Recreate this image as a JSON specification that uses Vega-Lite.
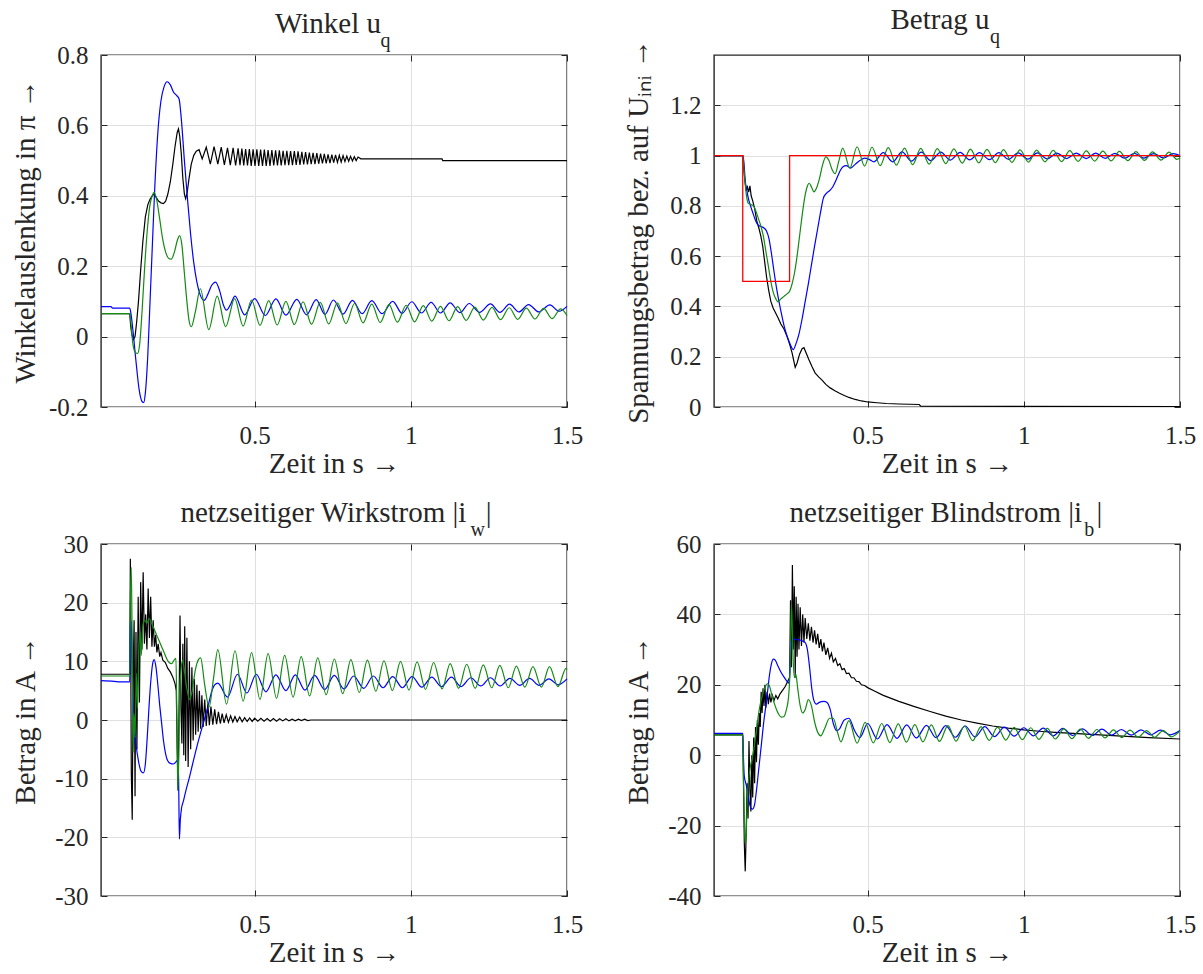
{
"$schema": "https://vega.github.io/schema/vega-lite/v6.json",
"background": "white",
"padding": {"left": 10, "top": 4, "right": 2, "bottom": 0},
"columns": 2,
"spacing": {"row": 137, "column": 147},
"bounds": "flush",
"config": {
 "font": "Liberation Serif",
 "view": {"stroke": "#262626", "strokeWidth": 1.4},
 "style": {"guide-label": {"font": "Liberation Serif"}, "guide-title": {"font": "Liberation Serif"}, "group-title": {"font": "Liberation Serif"}, "group-subtitle": {"font": "Liberation Serif"}},
 "axis": {"labelFont": "Liberation Serif", "labelFontSize": 25, "labelColor": "#262626", "titleFont": "Liberation Serif", "titleFontSize": 29, "titleFontWeight": "normal", "titleColor": "#262626", "grid": true, "gridColor": "#e0e0e0", "gridWidth": 1, "domain": false, "tickColor": "#262626", "tickWidth": 1, "tickSize": -6, "labelOverlap": false, "labelBound": false},
 "axisX": {"minExtent": 42, "maxExtent": 42, "titlePadding": 0, "labelPadding": 22.5, "labelFlush": false},
 "axisY": {"minExtent": 56, "maxExtent": 56, "titlePadding": 5, "labelPadding": 19},
 "title": {"font": "Liberation Serif", "fontSize": 29, "fontWeight": "normal", "color": "#262626", "subtitleFont": "Liberation Serif", "subtitleFontSize": 20, "subtitleColor": "#262626", "frame": "group", "anchor": "middle", "offset": -8, "subtitlePadding": -8}
},
"datasets": {
"p1": [
{"s":"k","t":0.008,"v":0.065},{"s":"k","t":0.1,"v":0.065},{"s":"k","t":0.103,"v":0.03},{"s":"k","t":0.107,"v":0.005},{"s":"k","t":0.112,"v":-0.008},{"s":"k","t":0.117,"v":0.0},{"s":"k","t":0.122,"v":0.04},{"s":"k","t":0.128,"v":0.1},{"s":"k","t":0.135,"v":0.19},{"s":"k","t":0.142,"v":0.27},{"s":"k","t":0.15,"v":0.34},{"s":"k","t":0.158,"v":0.375},{"s":"k","t":0.165,"v":0.39},{"s":"k","t":0.172,"v":0.4},{"s":"k","t":0.178,"v":0.405},{"s":"k","t":0.185,"v":0.395},{"s":"k","t":0.192,"v":0.385},{"s":"k","t":0.2,"v":0.38},{"s":"k","t":0.208,"v":0.378},{"s":"k","t":0.215,"v":0.385},{"s":"k","t":0.222,"v":0.405},{"s":"k","t":0.23,"v":0.44},{"s":"k","t":0.238,"v":0.49},{"s":"k","t":0.245,"v":0.54},{"s":"k","t":0.252,"v":0.58},{"s":"k","t":0.256,"v":0.59},{"s":"k","t":0.26,"v":0.57},{"s":"k","t":0.265,"v":0.52},{"s":"k","t":0.27,"v":0.45},{"s":"k","t":0.275,"v":0.405},{"s":"k","t":0.279,"v":0.392},{"s":"k","t":0.284,"v":0.41},{"s":"k","t":0.29,"v":0.45},{"s":"k","t":0.297,"v":0.49},{"s":"k","t":0.305,"v":0.515},{"s":"k","t":0.313,"v":0.527},{"s":"k","t":0.322,"v":0.531},{"s":"k","t":0.332,"v":0.505},{"s":"k","t":0.345,"v":0.538},{"s":"k","t":0.358,"v":0.49},{"s":"k","t":0.37,"v":0.54},{"s":"k","t":0.382,"v":0.49},{"s":"k","t":0.393,"v":0.538},{"s":"k","t":0.403,"v":0.488},{"s":"k","t":0.413,"v":0.536},{"s":"k","t":0.422,"v":0.487},{"s":"k","t":0.431,"v":0.536},{"s":"k","t":0.439,"v":0.486},{"s":"k","t":0.447,"v":0.535},
{"s":"k","t":0.453,"v":0.487},{"s":"k","t":0.459,"v":0.534},{"s":"k","t":0.465,"v":0.486},{"s":"k","t":0.471,"v":0.533},{"s":"k","t":0.477,"v":0.486},{"s":"k","t":0.483,"v":0.533},{"s":"k","t":0.489,"v":0.485},{"s":"k","t":0.495,"v":0.532},{"s":"k","t":0.501,"v":0.485},{"s":"k","t":0.507,"v":0.532},{"s":"k","t":0.513,"v":0.485},{"s":"k","t":0.519,"v":0.531},{"s":"k","t":0.525,"v":0.485},{"s":"k","t":0.531,"v":0.531},{"s":"k","t":0.537,"v":0.485},{"s":"k","t":0.543,"v":0.53},{"s":"k","t":0.549,"v":0.485},{"s":"k","t":0.555,"v":0.53},{"s":"k","t":0.561,"v":0.486},{"s":"k","t":0.567,"v":0.529},{"s":"k","t":0.573,"v":0.486},{"s":"k","t":0.579,"v":0.529},{"s":"k","t":0.585,"v":0.486},{"s":"k","t":0.591,"v":0.528},{"s":"k","t":0.597,"v":0.487},{"s":"k","t":0.603,"v":0.528},{"s":"k","t":0.609,"v":0.487},{"s":"k","t":0.615,"v":0.527},{"s":"k","t":0.621,"v":0.487},{"s":"k","t":0.627,"v":0.527},{"s":"k","t":0.633,"v":0.488},{"s":"k","t":0.639,"v":0.526},{"s":"k","t":0.645,"v":0.488},{"s":"k","t":0.651,"v":0.525},{"s":"k","t":0.657,"v":0.489},{"s":"k","t":0.663,"v":0.524},{"s":"k","t":0.669,"v":0.489},{"s":"k","t":0.675,"v":0.523},{"s":"k","t":0.681,"v":0.49},{"s":"k","t":0.687,"v":0.522},{"s":"k","t":0.693,"v":0.49},{"s":"k","t":0.699,"v":0.521},{"s":"k","t":0.705,"v":0.491},{"s":"k","t":0.711,"v":0.52},{"s":"k","t":0.717,"v":0.492},{"s":"k","t":0.723,"v":0.519},{"s":"k","t":0.729,"v":0.492},{"s":"k","t":0.735,"v":0.518},{"s":"k","t":0.741,"v":0.493},{"s":"k","t":0.747,"v":0.517},{"s":"k","t":0.753,"v":0.494},{"s":"k","t":0.759,"v":0.516},{"s":"k","t":0.765,"v":0.495},{"s":"k","t":0.771,"v":0.515},{"s":"k","t":0.777,"v":0.496},{"s":"k","t":0.783,"v":0.514},{"s":"k","t":0.789,"v":0.497},{"s":"k","t":0.795,"v":0.513},{"s":"k","t":0.801,"v":0.498},{"s":"k","t":0.807,"v":0.512},{"s":"k","t":0.813,"v":0.499},{"s":"k","t":0.819,"v":0.511},{"s":"k","t":0.825,"v":0.5},{"s":"k","t":0.831,"v":0.51},{"s":"k","t":0.84,"v":0.505},{"s":"k","t":1.1,"v":0.505},{"s":"k","t":1.102,"v":0.5},{"s":"k","t":1.5,"v":0.5},
{"s":"b","t":0.008,"v":0.085},{"s":"b","t":0.04,"v":0.085},{"s":"b","t":0.045,"v":0.081},{"s":"b","t":0.1,"v":0.081},{"s":"b","t":0.103,"v":0.07},{"s":"b","t":0.11,"v":0.02},{"s":"b","t":0.12,"v":-0.07},{"s":"b","t":0.13,"v":-0.15},{"s":"b","t":0.14,"v":-0.185},{"s":"b","t":0.145,"v":-0.187},{"s":"b","t":0.15,"v":-0.16},{"s":"b","t":0.158,"v":-0.05},{"s":"b","t":0.165,"v":0.1},{"s":"b","t":0.172,"v":0.25},{"s":"b","t":0.18,"v":0.42},{"s":"b","t":0.19,"v":0.58},{"s":"b","t":0.2,"v":0.67},{"s":"b","t":0.21,"v":0.71},{"s":"b","t":0.22,"v":0.724},{"s":"b","t":0.23,"v":0.715},{"s":"b","t":0.24,"v":0.695},{"s":"b","t":0.25,"v":0.685},{"s":"b","t":0.258,"v":0.675},{"s":"b","t":0.265,"v":0.62},{"s":"b","t":0.275,"v":0.5},{"s":"b","t":0.285,"v":0.39},{"s":"b","t":0.295,"v":0.29},{"s":"b","t":0.305,"v":0.21},{"s":"b","t":0.315,"v":0.155},{"s":"b","t":0.325,"v":0.12},{"s":"b","t":0.338,"v":0.103},{"s":"b","t":0.35,"v":0.12},{"s":"b","t":0.362,"v":0.145},{"s":"b","t":0.375,"v":0.155},{"s":"b","t":0.388,"v":0.13},{"s":"b","t":0.4,"v":0.09},{"s":"b","t":0.41,"v":0.075},{"s":"b","t":0.422,"v":0.09},{"s":"b","t":0.437,"v":0.115},{"s":"b","t":0.468,"v":0.062},{"s":"b","t":0.5,"v":0.108},{"s":"b","t":0.534,"v":0.06},{"s":"b","t":0.568,"v":0.107},{"s":"b","t":0.6,"v":0.061},{"s":"b","t":0.635,"v":0.106},{"s":"b","t":0.666,"v":0.062},{"s":"b","t":0.697,"v":0.105},{"s":"b","t":0.725,"v":0.063},{"s":"b","t":0.752,"v":0.104},{"s":"b","t":0.783,"v":0.064},{"s":"b","t":0.813,"v":0.103},{"s":"b","t":0.844,"v":0.065},{"s":"b","t":0.875,"v":0.102},{"s":"b","t":0.908,"v":0.065},{"s":"b","t":0.942,"v":0.1},{"s":"b","t":0.972,"v":0.066},{"s":"b","t":1.003,"v":0.099},{"s":"b","t":1.034,"v":0.067},{"s":"b","t":1.065,"v":0.097},{"s":"b","t":1.095,"v":0.067},{"s":"b","t":1.126,"v":0.096},{"s":"b","t":1.157,"v":0.068},{"s":"b","t":1.187,"v":0.094},{"s":"b","t":1.22,"v":0.069},{"s":"b","t":1.255,"v":0.093},{"s":"b","t":1.285,"v":0.069},{"s":"b","t":1.316,"v":0.092},{"s":"b","t":1.346,"v":0.07},{"s":"b","t":1.377,"v":0.091},{"s":"b","t":1.41,"v":0.07},{"s":"b","t":1.445,"v":0.09},{"s":"b","t":1.475,"v":0.072},{"s":"b","t":1.5,"v":0.086},
{"s":"g","t":0.008,"v":0.065},{"s":"g","t":0.1,"v":0.065},{"s":"g","t":0.103,"v":0.045},{"s":"g","t":0.11,"v":-0.02},{"s":"g","t":0.118,"v":-0.045},{"s":"g","t":0.125,"v":-0.048},{"s":"g","t":0.132,"v":-0.02},{"s":"g","t":0.14,"v":0.08},{"s":"g","t":0.148,"v":0.2},{"s":"g","t":0.156,"v":0.3},{"s":"g","t":0.164,"v":0.37},{"s":"g","t":0.172,"v":0.4},{"s":"g","t":0.178,"v":0.41},{"s":"g","t":0.186,"v":0.39},{"s":"g","t":0.195,"v":0.34},{"s":"g","t":0.205,"v":0.28},{"s":"g","t":0.215,"v":0.24},{"s":"g","t":0.225,"v":0.222},{"s":"g","t":0.233,"v":0.22},{"s":"g","t":0.243,"v":0.24},{"s":"g","t":0.253,"v":0.275},{"s":"g","t":0.26,"v":0.287},{"s":"g","t":0.267,"v":0.26},{"s":"g","t":0.275,"v":0.18},{"s":"g","t":0.283,"v":0.1},{"s":"g","t":0.29,"v":0.045},{"s":"g","t":0.297,"v":0.028},{"s":"g","t":0.31,"v":0.07},{"s":"g","t":0.326,"v":0.136},{"s":"g","t":0.353,"v":0.02},{"s":"g","t":0.38,"v":0.115},{"s":"g","t":0.407,"v":0.028},{"s":"g","t":0.436,"v":0.108},{"s":"g","t":0.463,"v":0.03},{"s":"g","t":0.49,"v":0.104},{"s":"g","t":0.517,"v":0.032},{"s":"g","t":0.545,"v":0.102},{"s":"g","t":0.572,"v":0.033},{"s":"g","t":0.6,"v":0.1},{"s":"g","t":0.627,"v":0.034},{"s":"g","t":0.655,"v":0.099},{"s":"g","t":0.682,"v":0.035},{"s":"g","t":0.71,"v":0.097},{"s":"g","t":0.737,"v":0.036},{"s":"g","t":0.765,"v":0.096},{"s":"g","t":0.792,"v":0.037},{"s":"g","t":0.82,"v":0.094},{"s":"g","t":0.847,"v":0.039},{"s":"g","t":0.875,"v":0.092},{"s":"g","t":0.902,"v":0.04},{"s":"g","t":0.93,"v":0.091},{"s":"g","t":0.957,"v":0.041},{"s":"g","t":0.985,"v":0.089},{"s":"g","t":1.012,"v":0.042},{"s":"g","t":1.04,"v":0.088},{"s":"g","t":1.067,"v":0.044},{"s":"g","t":1.095,"v":0.086},{"s":"g","t":1.122,"v":0.045},{"s":"g","t":1.15,"v":0.085},{"s":"g","t":1.177,"v":0.046},{"s":"g","t":1.205,"v":0.084},{"s":"g","t":1.232,"v":0.047},{"s":"g","t":1.26,"v":0.083},{"s":"g","t":1.287,"v":0.048},{"s":"g","t":1.315,"v":0.082},{"s":"g","t":1.342,"v":0.049},{"s":"g","t":1.37,"v":0.081},{"s":"g","t":1.397,"v":0.05},{"s":"g","t":1.425,"v":0.08},{"s":"g","t":1.452,"v":0.051},{"s":"g","t":1.48,"v":0.079},{"s":"g","t":1.5,"v":0.06}
],
"p2": [
{"s":"k","t":0.008,"v":1.0},{"s":"k","t":0.1,"v":1.0},{"s":"k","t":0.103,"v":0.95},{"s":"k","t":0.107,"v":0.9},{"s":"k","t":0.111,"v":0.86},{"s":"k","t":0.115,"v":0.875},{"s":"k","t":0.119,"v":0.855},{"s":"k","t":0.123,"v":0.88},{"s":"k","t":0.127,"v":0.84},{"s":"k","t":0.132,"v":0.82},{"s":"k","t":0.138,"v":0.79},{"s":"k","t":0.145,"v":0.74},{"s":"k","t":0.152,"v":0.71},{"s":"k","t":0.158,"v":0.68},{"s":"k","t":0.164,"v":0.64},{"s":"k","t":0.17,"v":0.58},{"s":"k","t":0.176,"v":0.52},{"s":"k","t":0.183,"v":0.465},{"s":"k","t":0.19,"v":0.42},{"s":"k","t":0.197,"v":0.395},{"s":"k","t":0.205,"v":0.375},{"s":"k","t":0.213,"v":0.355},{"s":"k","t":0.222,"v":0.33},{"s":"k","t":0.232,"v":0.31},{"s":"k","t":0.242,"v":0.28},{"s":"k","t":0.25,"v":0.25},{"s":"k","t":0.258,"v":0.215},{"s":"k","t":0.264,"v":0.18},{"s":"k","t":0.268,"v":0.158},{"s":"k","t":0.274,"v":0.175},{"s":"k","t":0.282,"v":0.21},{"s":"k","t":0.29,"v":0.232},{"s":"k","t":0.296,"v":0.236},{"s":"k","t":0.303,"v":0.215},{"s":"k","t":0.312,"v":0.188},{"s":"k","t":0.322,"v":0.16},{"s":"k","t":0.332,"v":0.135},{"s":"k","t":0.343,"v":0.12},{"s":"k","t":0.354,"v":0.107},{"s":"k","t":0.366,"v":0.09},{"s":"k","t":0.38,"v":0.076},{"s":"k","t":0.395,"v":0.065},{"s":"k","t":0.41,"v":0.055},{"s":"k","t":0.425,"v":0.046},{"s":"k","t":0.44,"v":0.038},{"s":"k","t":0.46,"v":0.03},{"s":"k","t":0.48,"v":0.024},{"s":"k","t":0.5,"v":0.02},{"s":"k","t":0.53,"v":0.017},{"s":"k","t":0.56,"v":0.014},{"s":"k","t":0.6,"v":0.012},{"s":"k","t":0.665,"v":0.01},{"s":"k","t":0.67,"v":0.003},{"s":"k","t":1.5,"v":0.002},
{"s":"b","t":0.008,"v":1.0},{"s":"b","t":0.1,"v":1.0},{"s":"b","t":0.104,"v":0.97},{"s":"b","t":0.108,"v":0.9},{"s":"b","t":0.112,"v":0.87},{"s":"b","t":0.118,"v":0.83},{"s":"b","t":0.125,"v":0.8},{"s":"b","t":0.133,"v":0.77},{"s":"b","t":0.14,"v":0.745},{"s":"b","t":0.148,"v":0.725},{"s":"b","t":0.158,"v":0.718},{"s":"b","t":0.168,"v":0.712},{"s":"b","t":0.176,"v":0.7},{"s":"b","t":0.184,"v":0.67},{"s":"b","t":0.192,"v":0.61},{"s":"b","t":0.2,"v":0.54},{"s":"b","t":0.208,"v":0.475},{"s":"b","t":0.216,"v":0.42},{"s":"b","t":0.224,"v":0.37},{"s":"b","t":0.232,"v":0.325},{"s":"b","t":0.24,"v":0.29},{"s":"b","t":0.248,"v":0.262},{"s":"b","t":0.256,"v":0.238},{"s":"b","t":0.262,"v":0.228},{"s":"b","t":0.27,"v":0.25},{"s":"b","t":0.28,"v":0.29},{"s":"b","t":0.29,"v":0.35},{"s":"b","t":0.3,"v":0.42},{"s":"b","t":0.31,"v":0.49},{"s":"b","t":0.32,"v":0.565},{"s":"b","t":0.33,"v":0.64},{"s":"b","t":0.34,"v":0.71},{"s":"b","t":0.35,"v":0.78},{"s":"b","t":0.358,"v":0.83},{"s":"b","t":0.368,"v":0.85},{"s":"b","t":0.378,"v":0.86},{"s":"b","t":0.388,"v":0.875},{"s":"b","t":0.398,"v":0.9},{"s":"b","t":0.41,"v":0.935},{"s":"b","t":0.42,"v":0.955},{"s":"b","t":0.432,"v":0.96},{"s":"b","t":0.445,"v":0.95},{"s":"b","t":0.46,"v":0.965},{"s":"b","t":0.475,"v":0.98},{"s":"b","t":0.49,"v":0.99},{"s":"b","t":0.505,"v":0.985},{"s":"b","t":0.52,"v":0.975},{"s":"b","t":0.55,"v":1.012},{"s":"b","t":0.58,"v":0.975},{"s":"b","t":0.61,"v":1.015},{"s":"b","t":0.64,"v":0.978},{"s":"b","t":0.672,"v":1.014},{"s":"b","t":0.702,"v":0.98},{"s":"b","t":0.734,"v":1.014},{"s":"b","t":0.765,"v":0.982},{"s":"b","t":0.796,"v":1.013},{"s":"b","t":0.827,"v":0.983},{"s":"b","t":0.858,"v":1.012},{"s":"b","t":0.89,"v":0.984},{"s":"b","t":0.92,"v":1.012},{"s":"b","t":0.951,"v":0.985},{"s":"b","t":0.982,"v":1.011},{"s":"b","t":1.013,"v":0.986},{"s":"b","t":1.044,"v":1.011},{"s":"b","t":1.075,"v":0.987},{"s":"b","t":1.106,"v":1.01},{"s":"b","t":1.137,"v":0.988},{"s":"b","t":1.168,"v":1.01},{"s":"b","t":1.2,"v":0.988},{"s":"b","t":1.23,"v":1.01},{"s":"b","t":1.261,"v":0.989},{"s":"b","t":1.292,"v":1.009},{"s":"b","t":1.323,"v":0.99},{"s":"b","t":1.354,"v":1.009},{"s":"b","t":1.385,"v":0.99},{"s":"b","t":1.416,"v":1.008},{"s":"b","t":1.447,"v":0.991},{"s":"b","t":1.478,"v":1.008},{"s":"b","t":1.5,"v":1.0},
{"s":"g","t":0.008,"v":1.0},{"s":"g","t":0.1,"v":1.0},{"s":"g","t":0.103,"v":0.96},{"s":"g","t":0.107,"v":0.9},{"s":"g","t":0.112,"v":0.84},{"s":"g","t":0.118,"v":0.81},{"s":"g","t":0.126,"v":0.805},{"s":"g","t":0.134,"v":0.8},{"s":"g","t":0.142,"v":0.78},{"s":"g","t":0.15,"v":0.75},{"s":"g","t":0.158,"v":0.72},{"s":"g","t":0.166,"v":0.68},{"s":"g","t":0.174,"v":0.62},{"s":"g","t":0.182,"v":0.56},{"s":"g","t":0.19,"v":0.5},{"s":"g","t":0.198,"v":0.455},{"s":"g","t":0.206,"v":0.43},{"s":"g","t":0.213,"v":0.418},{"s":"g","t":0.222,"v":0.43},{"s":"g","t":0.232,"v":0.44},{"s":"g","t":0.242,"v":0.45},{"s":"g","t":0.25,"v":0.46},{"s":"g","t":0.258,"v":0.49},{"s":"g","t":0.266,"v":0.535},{"s":"g","t":0.274,"v":0.6},{"s":"g","t":0.282,"v":0.68},{"s":"g","t":0.29,"v":0.76},{"s":"g","t":0.298,"v":0.83},{"s":"g","t":0.306,"v":0.875},{"s":"g","t":0.313,"v":0.89},{"s":"g","t":0.32,"v":0.875},{"s":"g","t":0.328,"v":0.856},{"s":"g","t":0.336,"v":0.87},{"s":"g","t":0.345,"v":0.905},{"s":"g","t":0.355,"v":0.96},{"s":"g","t":0.366,"v":0.995},{"s":"g","t":0.376,"v":0.98},{"s":"g","t":0.386,"v":0.945},{"s":"g","t":0.396,"v":0.928},{"s":"g","t":0.408,"v":0.98},{"s":"g","t":0.42,"v":1.03},{"s":"g","t":0.443,"v":0.95},{"s":"g","t":0.466,"v":1.035},{"s":"g","t":0.49,"v":0.958},{"s":"g","t":0.514,"v":1.033},{"s":"g","t":0.54,"v":0.96},{"s":"g","t":0.566,"v":1.032},{"s":"g","t":0.592,"v":0.962},{"s":"g","t":0.618,"v":1.03},{"s":"g","t":0.644,"v":0.964},{"s":"g","t":0.67,"v":1.029},{"s":"g","t":0.697,"v":0.966},{"s":"g","t":0.723,"v":1.028},{"s":"g","t":0.75,"v":0.968},{"s":"g","t":0.776,"v":1.027},{"s":"g","t":0.803,"v":0.97},{"s":"g","t":0.829,"v":1.026},{"s":"g","t":0.856,"v":0.971},{"s":"g","t":0.882,"v":1.025},{"s":"g","t":0.909,"v":0.972},{"s":"g","t":0.935,"v":1.024},{"s":"g","t":0.962,"v":0.973},{"s":"g","t":0.988,"v":1.023},{"s":"g","t":1.015,"v":0.974},{"s":"g","t":1.041,"v":1.022},{"s":"g","t":1.068,"v":0.975},{"s":"g","t":1.094,"v":1.021},{"s":"g","t":1.121,"v":0.976},{"s":"g","t":1.147,"v":1.02},{"s":"g","t":1.174,"v":0.977},{"s":"g","t":1.2,"v":1.019},{"s":"g","t":1.227,"v":0.978},{"s":"g","t":1.253,"v":1.018},{"s":"g","t":1.28,"v":0.979},{"s":"g","t":1.306,"v":1.017},{"s":"g","t":1.333,"v":0.98},{"s":"g","t":1.359,"v":1.016},{"s":"g","t":1.386,"v":0.981},{"s":"g","t":1.412,"v":1.015},{"s":"g","t":1.439,"v":0.982},{"s":"g","t":1.465,"v":1.014},{"s":"g","t":1.49,"v":0.985},{"s":"g","t":1.5,"v":0.99},
{"s":"r","t":0.008,"v":1.0},{"s":"r","t":0.1,"v":1.0},{"s":"r","t":0.1001,"v":0.5},{"s":"r","t":0.25,"v":0.5},{"s":"r","t":0.2501,"v":1.0},{"s":"r","t":1.5,"v":1.0}
],
"p3": [
{"s":"k","t":0.008,"v":7.8},{"s":"k","t":0.1,"v":7.8},{"s":"k","t":0.102,"v":27.5},{"s":"k","t":0.105,"v":-9},{"s":"k","t":0.108,"v":-17},{"s":"k","t":0.111,"v":8},{"s":"k","t":0.114,"v":17},{"s":"k","t":0.117,"v":-13},{"s":"k","t":0.12,"v":15},{"s":"k","t":0.123,"v":-5},{"s":"k","t":0.127,"v":21},{"s":"k","t":0.131,"v":3},{"s":"k","t":0.135,"v":23.5},{"s":"k","t":0.139,"v":12},{"s":"k","t":0.143,"v":25.2},{"s":"k","t":0.147,"v":13},{"s":"k","t":0.151,"v":18},{"s":"k","t":0.155,"v":12},{"s":"k","t":0.159,"v":22.4},{"s":"k","t":0.163,"v":14},{"s":"k","t":0.167,"v":21},{"s":"k","t":0.171,"v":12.5},{"s":"k","t":0.175,"v":17},{"s":"k","t":0.179,"v":12.5},{"s":"k","t":0.183,"v":14.5},{"s":"k","t":0.187,"v":11.5},{"s":"k","t":0.191,"v":13},{"s":"k","t":0.196,"v":10.8},{"s":"k","t":0.2,"v":11.5},{"s":"k","t":0.206,"v":10.2},{"s":"k","t":0.214,"v":9.8},{"s":"k","t":0.222,"v":8.8},{"s":"k","t":0.23,"v":8.2},{"s":"k","t":0.238,"v":7.3},{"s":"k","t":0.245,"v":6.2},{"s":"k","t":0.249,"v":5},{"s":"k","t":0.252,"v":-5},{"s":"k","t":0.255,"v":-12},{"s":"k","t":0.258,"v":3},{"s":"k","t":0.261,"v":17.8},{"s":"k","t":0.264,"v":2},{"s":"k","t":0.267,"v":-4},{"s":"k","t":0.27,"v":13},{"s":"k","t":0.273,"v":-6},{"s":"k","t":0.276,"v":16},{"s":"k","t":0.279,"v":-7},{"s":"k","t":0.283,"v":14},{"s":"k","t":0.287,"v":-8},{"s":"k","t":0.291,"v":10},{"s":"k","t":0.295,"v":-5},{"s":"k","t":0.299,"v":9},{"s":"k","t":0.303,"v":-3.5},{"s":"k","t":0.307,"v":7},{"s":"k","t":0.311,"v":-2.5},{"s":"k","t":0.315,"v":6},{"s":"k","t":0.319,"v":-2},{"s":"k","t":0.323,"v":5},{"s":"k","t":0.327,"v":-1.5},{"s":"k","t":0.331,"v":4.2},{"s":"k","t":0.335,"v":-1.2},{"s":"k","t":0.34,"v":3.5},{"s":"k","t":0.345,"v":-1},{"s":"k","t":0.35,"v":2.8},{"s":"k","t":0.355,"v":-0.9},{"s":"k","t":0.36,"v":2.3},{"s":"k","t":0.366,"v":-0.8},{"s":"k","t":0.372,"v":1.8},{"s":"k","t":0.378,"v":-0.7},{"s":"k","t":0.384,"v":1.4},{"s":"k","t":0.39,"v":-0.6},{"s":"k","t":0.396,"v":1.1},{"s":"k","t":0.402,"v":-0.5},{"s":"k","t":0.409,"v":0.9},{"s":"k","t":0.416,"v":-0.4},{"s":"k","t":0.423,"v":0.7},{"s":"k","t":0.43,"v":-0.35},{"s":"k","t":0.437,"v":0.6},{"s":"k","t":0.444,"v":-0.3},{"s":"k","t":0.452,"v":0.5},{"s":"k","t":0.46,"v":-0.3},{"s":"k","t":0.468,"v":0.4},{"s":"k","t":0.476,"v":-0.25},{"s":"k","t":0.484,"v":0.35},{"s":"k","t":0.492,"v":-0.25},{"s":"k","t":0.5,"v":0.3},{"s":"k","t":0.51,"v":-0.2},{"s":"k","t":0.52,"v":0.3},{"s":"k","t":0.53,"v":-0.2},{"s":"k","t":0.54,"v":0.25},{"s":"k","t":0.55,"v":-0.2},{"s":"k","t":0.56,"v":0.25},{"s":"k","t":0.57,"v":-0.2},{"s":"k","t":0.58,"v":0.2},{"s":"k","t":0.59,"v":-0.15},{"s":"k","t":0.6,"v":0.2},{"s":"k","t":0.61,"v":-0.15},{"s":"k","t":0.62,"v":0.15},{"s":"k","t":0.63,"v":-0.15},{"s":"k","t":0.64,"v":0.15},{"s":"k","t":0.65,"v":-0.1},{"s":"k","t":0.66,"v":0.15},{"s":"k","t":0.67,"v":-0.1},{"s":"k","t":0.68,"v":0.0},{"s":"k","t":1.5,"v":0.0},
{"s":"b","t":0.008,"v":6.7},{"s":"b","t":0.05,"v":6.6},{"s":"b","t":0.07,"v":6.5},{"s":"b","t":0.1,"v":6.5},{"s":"b","t":0.102,"v":17},{"s":"b","t":0.105,"v":17},{"s":"b","t":0.108,"v":8},{"s":"b","t":0.113,"v":1},{"s":"b","t":0.12,"v":-4},{"s":"b","t":0.128,"v":-7},{"s":"b","t":0.136,"v":-8.7},{"s":"b","t":0.144,"v":-9},{"s":"b","t":0.15,"v":-7.5},{"s":"b","t":0.156,"v":-3},{"s":"b","t":0.162,"v":2.5},{"s":"b","t":0.168,"v":7},{"s":"b","t":0.174,"v":9.8},{"s":"b","t":0.178,"v":10.3},{"s":"b","t":0.184,"v":9},{"s":"b","t":0.19,"v":6},{"s":"b","t":0.196,"v":2.5},{"s":"b","t":0.202,"v":-0.5},{"s":"b","t":0.208,"v":-3.5},{"s":"b","t":0.215,"v":-5.8},{"s":"b","t":0.222,"v":-7},{"s":"b","t":0.23,"v":-7.4},{"s":"b","t":0.24,"v":-7.5},{"s":"b","t":0.25,"v":-7},{"s":"b","t":0.255,"v":-6.7},{"s":"b","t":0.257,"v":-12},{"s":"b","t":0.259,"v":-20.3},{"s":"b","t":0.262,"v":-17},{"s":"b","t":0.266,"v":-15},{"s":"b","t":0.272,"v":-13.8},{"s":"b","t":0.28,"v":-12},{"s":"b","t":0.29,"v":-10},{"s":"b","t":0.3,"v":-7.8},{"s":"b","t":0.31,"v":-5.6},{"s":"b","t":0.32,"v":-3.5},{"s":"b","t":0.33,"v":-1.6},{"s":"b","t":0.34,"v":0.3},{"s":"b","t":0.35,"v":2.2},{"s":"b","t":0.362,"v":4.8},{"s":"b","t":0.372,"v":6.0},{"s":"b","t":0.382,"v":6.3},{"s":"b","t":0.413,"v":3.9},{"s":"b","t":0.445,"v":7.8},{"s":"b","t":0.475,"v":4.6},{"s":"b","t":0.505,"v":7.8},{"s":"b","t":0.536,"v":4.8},{"s":"b","t":0.568,"v":7.7},{"s":"b","t":0.6,"v":5.0},{"s":"b","t":0.63,"v":7.7},{"s":"b","t":0.661,"v":5.1},{"s":"b","t":0.692,"v":7.6},{"s":"b","t":0.724,"v":5.2},{"s":"b","t":0.755,"v":7.6},{"s":"b","t":0.786,"v":5.3},{"s":"b","t":0.817,"v":7.5},{"s":"b","t":0.849,"v":5.4},{"s":"b","t":0.88,"v":7.5},{"s":"b","t":0.911,"v":5.5},{"s":"b","t":0.942,"v":7.4},{"s":"b","t":0.973,"v":5.5},{"s":"b","t":1.004,"v":7.4},{"s":"b","t":1.035,"v":5.6},{"s":"b","t":1.067,"v":7.3},{"s":"b","t":1.098,"v":5.7},{"s":"b","t":1.13,"v":7.3},{"s":"b","t":1.161,"v":5.7},{"s":"b","t":1.192,"v":7.2},{"s":"b","t":1.224,"v":5.8},{"s":"b","t":1.255,"v":7.2},{"s":"b","t":1.286,"v":5.8},{"s":"b","t":1.317,"v":7.1},{"s":"b","t":1.349,"v":5.9},{"s":"b","t":1.38,"v":7.1},{"s":"b","t":1.411,"v":5.9},{"s":"b","t":1.442,"v":7.0},{"s":"b","t":1.472,"v":6.0},{"s":"b","t":1.5,"v":7.0},
{"s":"g","t":0.008,"v":7.5},{"s":"g","t":0.1,"v":7.5},{"s":"g","t":0.102,"v":20},{"s":"g","t":0.105,"v":26},{"s":"g","t":0.108,"v":12},{"s":"g","t":0.111,"v":-5.5},{"s":"g","t":0.114,"v":1},{"s":"g","t":0.117,"v":-3},{"s":"g","t":0.121,"v":8},{"s":"g","t":0.125,"v":2},{"s":"g","t":0.129,"v":12},{"s":"g","t":0.133,"v":15},{"s":"g","t":0.137,"v":11},{"s":"g","t":0.142,"v":16},{"s":"g","t":0.148,"v":17},{"s":"g","t":0.155,"v":16.5},{"s":"g","t":0.162,"v":17.3},{"s":"g","t":0.17,"v":16.5},{"s":"g","t":0.178,"v":15.5},{"s":"g","t":0.186,"v":14.5},{"s":"g","t":0.194,"v":13.5},{"s":"g","t":0.202,"v":12.5},{"s":"g","t":0.21,"v":11.5},{"s":"g","t":0.218,"v":10.5},{"s":"g","t":0.226,"v":9.8},{"s":"g","t":0.234,"v":9.6},{"s":"g","t":0.242,"v":10.2},{"s":"g","t":0.248,"v":10.5},{"s":"g","t":0.251,"v":0},{"s":"g","t":0.254,"v":-12},{"s":"g","t":0.257,"v":-6},{"s":"g","t":0.26,"v":4},{"s":"g","t":0.265,"v":9},{"s":"g","t":0.27,"v":10.2},{"s":"g","t":0.276,"v":8},{"s":"g","t":0.284,"v":5},{"s":"g","t":0.292,"v":3.5},{"s":"g","t":0.3,"v":5},{"s":"g","t":0.31,"v":8.5},{"s":"g","t":0.32,"v":10.3},{"s":"g","t":0.327,"v":10.6},{"s":"g","t":0.34,"v":6},{"s":"g","t":0.354,"v":2.2},{"s":"g","t":0.368,"v":7},{"s":"g","t":0.382,"v":12},{"s":"g","t":0.41,"v":2.7},{"s":"g","t":0.437,"v":11.8},{"s":"g","t":0.463,"v":3.2},{"s":"g","t":0.49,"v":11.5},{"s":"g","t":0.517,"v":3.5},{"s":"g","t":0.543,"v":11.3},{"s":"g","t":0.57,"v":3.7},{"s":"g","t":0.596,"v":11.0},{"s":"g","t":0.623,"v":3.9},{"s":"g","t":0.649,"v":10.8},{"s":"g","t":0.676,"v":4.1},{"s":"g","t":0.702,"v":10.6},{"s":"g","t":0.729,"v":4.3},{"s":"g","t":0.755,"v":10.4},{"s":"g","t":0.782,"v":4.5},{"s":"g","t":0.808,"v":10.3},{"s":"g","t":0.835,"v":4.7},{"s":"g","t":0.861,"v":10.2},{"s":"g","t":0.888,"v":4.9},{"s":"g","t":0.914,"v":10.1},{"s":"g","t":0.941,"v":5.0},{"s":"g","t":0.967,"v":10.0},{"s":"g","t":0.994,"v":5.1},{"s":"g","t":1.02,"v":9.9},{"s":"g","t":1.047,"v":5.2},{"s":"g","t":1.073,"v":9.8},{"s":"g","t":1.1,"v":5.3},{"s":"g","t":1.126,"v":9.6},{"s":"g","t":1.153,"v":5.4},{"s":"g","t":1.179,"v":9.5},{"s":"g","t":1.206,"v":5.4},{"s":"g","t":1.232,"v":9.4},{"s":"g","t":1.259,"v":5.5},{"s":"g","t":1.285,"v":9.3},{"s":"g","t":1.312,"v":5.5},{"s":"g","t":1.338,"v":9.2},{"s":"g","t":1.365,"v":5.6},{"s":"g","t":1.391,"v":9.1},{"s":"g","t":1.418,"v":5.6},{"s":"g","t":1.444,"v":9.1},{"s":"g","t":1.471,"v":5.7},{"s":"g","t":1.497,"v":8.8},{"s":"g","t":1.5,"v":8.6}
],
"p4": [
{"s":"k","t":0.008,"v":5.8},{"s":"k","t":0.1,"v":5.8},{"s":"k","t":0.102,"v":-5},{"s":"k","t":0.105,"v":-25},{"s":"k","t":0.108,"v":-33},{"s":"k","t":0.111,"v":-22},{"s":"k","t":0.114,"v":-8},{"s":"k","t":0.117,"v":-18},{"s":"k","t":0.12,"v":4},{"s":"k","t":0.123,"v":-10},{"s":"k","t":0.126,"v":-16},{"s":"k","t":0.129,"v":0},{"s":"k","t":0.132,"v":-12},{"s":"k","t":0.135,"v":5},{"s":"k","t":0.138,"v":-8},{"s":"k","t":0.141,"v":8},{"s":"k","t":0.144,"v":-2},{"s":"k","t":0.147,"v":10},{"s":"k","t":0.15,"v":3},{"s":"k","t":0.153,"v":12},{"s":"k","t":0.156,"v":8},{"s":"k","t":0.159,"v":18},{"s":"k","t":0.162,"v":12},{"s":"k","t":0.165,"v":19},{"s":"k","t":0.168,"v":14},{"s":"k","t":0.171,"v":20},{"s":"k","t":0.174,"v":13.5},{"s":"k","t":0.178,"v":18},{"s":"k","t":0.182,"v":14.5},{"s":"k","t":0.186,"v":17.5},{"s":"k","t":0.19,"v":15},{"s":"k","t":0.195,"v":17},{"s":"k","t":0.2,"v":15.5},{"s":"k","t":0.206,"v":17},{"s":"k","t":0.212,"v":16},{"s":"k","t":0.22,"v":17.5},{"s":"k","t":0.228,"v":18.5},{"s":"k","t":0.236,"v":19.5},{"s":"k","t":0.244,"v":21},{"s":"k","t":0.25,"v":22},{"s":"k","t":0.253,"v":44},{"s":"k","t":0.256,"v":25},{"s":"k","t":0.259,"v":54},{"s":"k","t":0.262,"v":30},{"s":"k","t":0.265,"v":48},{"s":"k","t":0.268,"v":22},{"s":"k","t":0.271,"v":45},{"s":"k","t":0.274,"v":28},{"s":"k","t":0.277,"v":43},{"s":"k","t":0.28,"v":30},{"s":"k","t":0.284,"v":42},{"s":"k","t":0.288,"v":31},{"s":"k","t":0.292,"v":40},{"s":"k","t":0.296,"v":32},{"s":"k","t":0.3,"v":39},{"s":"k","t":0.305,"v":33},{"s":"k","t":0.31,"v":37.5},{"s":"k","t":0.315,"v":32.5},{"s":"k","t":0.32,"v":36.5},{"s":"k","t":0.325,"v":32},{"s":"k","t":0.33,"v":35.5},{"s":"k","t":0.335,"v":31.5},{"s":"k","t":0.34,"v":34.5},{"s":"k","t":0.345,"v":30.5},{"s":"k","t":0.35,"v":33},{"s":"k","t":0.355,"v":29.5},{"s":"k","t":0.36,"v":32},{"s":"k","t":0.366,"v":28.5},{"s":"k","t":0.372,"v":30.5},{"s":"k","t":0.378,"v":27.5},{"s":"k","t":0.384,"v":29},{"s":"k","t":0.39,"v":26.5},{"s":"k","t":0.397,"v":27.5},{"s":"k","t":0.404,"v":25.5},{"s":"k","t":0.411,"v":26},{"s":"k","t":0.418,"v":24.3},{"s":"k","t":0.425,"v":24.6},{"s":"k","t":0.432,"v":23.2},{"s":"k","t":0.44,"v":23.3},{"s":"k","t":0.448,"v":22},{"s":"k","t":0.456,"v":22},{"s":"k","t":0.464,"v":21},{"s":"k","t":0.472,"v":20.9},{"s":"k","t":0.48,"v":20},{"s":"k","t":0.49,"v":19.8},{"s":"k","t":0.5,"v":19.2},{"s":"k","t":0.52,"v":18.3},{"s":"k","t":0.55,"v":17},{"s":"k","t":0.6,"v":15.3},{"s":"k","t":0.65,"v":13.8},{"s":"k","t":0.7,"v":12.4},{"s":"k","t":0.75,"v":11.1},{"s":"k","t":0.8,"v":10},{"s":"k","t":0.85,"v":9.1},{"s":"k","t":0.9,"v":8.3},{"s":"k","t":0.95,"v":7.7},{"s":"k","t":1.0,"v":7.2},{"s":"k","t":1.05,"v":6.8},{"s":"k","t":1.1,"v":6.5},{"s":"k","t":1.2,"v":6.0},{"s":"k","t":1.3,"v":5.5},{"s":"k","t":1.4,"v":5.0},{"s":"k","t":1.5,"v":4.6},
{"s":"b","t":0.008,"v":6.2},{"s":"b","t":0.1,"v":6.2},{"s":"b","t":0.102,"v":0},{"s":"b","t":0.105,"v":-6},{"s":"b","t":0.11,"v":-8},{"s":"b","t":0.115,"v":-10},{"s":"b","t":0.12,"v":-13},{"s":"b","t":0.126,"v":-15},{"s":"b","t":0.132,"v":-15.3},{"s":"b","t":0.138,"v":-14},{"s":"b","t":0.144,"v":-10},{"s":"b","t":0.15,"v":-5},{"s":"b","t":0.156,"v":0},{"s":"b","t":0.162,"v":5},{"s":"b","t":0.168,"v":10},{"s":"b","t":0.174,"v":14},{"s":"b","t":0.18,"v":18.5},{"s":"b","t":0.186,"v":23},{"s":"b","t":0.192,"v":26},{"s":"b","t":0.198,"v":27.3},{"s":"b","t":0.204,"v":27},{"s":"b","t":0.212,"v":25.5},{"s":"b","t":0.22,"v":24},{"s":"b","t":0.23,"v":22.5},{"s":"b","t":0.24,"v":21.2},{"s":"b","t":0.248,"v":20.5},{"s":"b","t":0.252,"v":26},{"s":"b","t":0.256,"v":32},{"s":"b","t":0.262,"v":33},{"s":"b","t":0.275,"v":32.8},{"s":"b","t":0.29,"v":32.5},{"s":"b","t":0.3,"v":32},{"s":"b","t":0.307,"v":30},{"s":"b","t":0.314,"v":25},{"s":"b","t":0.321,"v":19},{"s":"b","t":0.328,"v":15.5},{"s":"b","t":0.336,"v":14.5},{"s":"b","t":0.345,"v":15},{"s":"b","t":0.36,"v":15.3},{"s":"b","t":0.37,"v":15},{"s":"b","t":0.38,"v":13},{"s":"b","t":0.39,"v":9},{"s":"b","t":0.4,"v":7},{"s":"b","t":0.41,"v":7.5},{"s":"b","t":0.425,"v":10},{"s":"b","t":0.44,"v":10.5},{"s":"b","t":0.458,"v":7},{"s":"b","t":0.475,"v":5},{"s":"b","t":0.5,"v":9.0},{"s":"b","t":0.531,"v":4.6},{"s":"b","t":0.562,"v":8.7},{"s":"b","t":0.594,"v":4.8},{"s":"b","t":0.625,"v":8.6},{"s":"b","t":0.656,"v":4.9},{"s":"b","t":0.688,"v":8.5},{"s":"b","t":0.719,"v":5.0},{"s":"b","t":0.75,"v":8.4},{"s":"b","t":0.781,"v":5.1},{"s":"b","t":0.812,"v":8.3},{"s":"b","t":0.844,"v":5.2},{"s":"b","t":0.875,"v":8.1},{"s":"b","t":0.906,"v":5.3},{"s":"b","t":0.938,"v":8.0},{"s":"b","t":0.969,"v":5.4},{"s":"b","t":1.0,"v":7.8},{"s":"b","t":1.031,"v":5.5},{"s":"b","t":1.062,"v":7.7},{"s":"b","t":1.094,"v":5.5},{"s":"b","t":1.125,"v":7.6},{"s":"b","t":1.156,"v":5.6},{"s":"b","t":1.188,"v":7.5},{"s":"b","t":1.219,"v":5.6},{"s":"b","t":1.25,"v":7.4},{"s":"b","t":1.281,"v":5.7},{"s":"b","t":1.312,"v":7.3},{"s":"b","t":1.344,"v":5.7},{"s":"b","t":1.375,"v":7.2},{"s":"b","t":1.406,"v":5.8},{"s":"b","t":1.438,"v":7.1},{"s":"b","t":1.469,"v":5.8},{"s":"b","t":1.5,"v":7.0},
{"s":"g","t":0.008,"v":5.8},{"s":"g","t":0.1,"v":5.8},{"s":"g","t":0.102,"v":-5},{"s":"g","t":0.105,"v":-18},{"s":"g","t":0.108,"v":-25},{"s":"g","t":0.111,"v":-22},{"s":"g","t":0.115,"v":-12},{"s":"g","t":0.12,"v":-6},{"s":"g","t":0.125,"v":-3},{"s":"g","t":0.13,"v":-1},{"s":"g","t":0.136,"v":2},{"s":"g","t":0.142,"v":6},{"s":"g","t":0.148,"v":10},{"s":"g","t":0.154,"v":13.5},{"s":"g","t":0.16,"v":16},{"s":"g","t":0.166,"v":18},{"s":"g","t":0.172,"v":19.3},{"s":"g","t":0.178,"v":20.3},{"s":"g","t":0.184,"v":20},{"s":"g","t":0.192,"v":17.5},{"s":"g","t":0.2,"v":15},{"s":"g","t":0.208,"v":13},{"s":"g","t":0.216,"v":11.5},{"s":"g","t":0.224,"v":10.8},{"s":"g","t":0.232,"v":11},{"s":"g","t":0.24,"v":13},{"s":"g","t":0.246,"v":16},{"s":"g","t":0.25,"v":21},{"s":"g","t":0.253,"v":30},{"s":"g","t":0.256,"v":43},{"s":"g","t":0.259,"v":35},{"s":"g","t":0.262,"v":26},{"s":"g","t":0.266,"v":22},{"s":"g","t":0.27,"v":23},{"s":"g","t":0.276,"v":19},{"s":"g","t":0.284,"v":14},{"s":"g","t":0.292,"v":12},{"s":"g","t":0.3,"v":13},{"s":"g","t":0.31,"v":15.8},{"s":"g","t":0.32,"v":14},{"s":"g","t":0.33,"v":9.5},{"s":"g","t":0.34,"v":6.5},{"s":"g","t":0.35,"v":5.5},{"s":"g","t":0.362,"v":7.5},{"s":"g","t":0.378,"v":10.5},{"s":"g","t":0.39,"v":10.5},{"s":"g","t":0.402,"v":7},{"s":"g","t":0.414,"v":3.8},{"s":"g","t":0.44,"v":9.8},{"s":"g","t":0.466,"v":3.4},{"s":"g","t":0.492,"v":9.3},{"s":"g","t":0.518,"v":3.5},{"s":"g","t":0.545,"v":9.0},{"s":"g","t":0.571,"v":3.6},{"s":"g","t":0.598,"v":8.9},{"s":"g","t":0.624,"v":3.7},{"s":"g","t":0.651,"v":8.7},{"s":"g","t":0.677,"v":3.8},{"s":"g","t":0.704,"v":8.6},{"s":"g","t":0.73,"v":3.9},{"s":"g","t":0.757,"v":8.4},{"s":"g","t":0.783,"v":4.0},{"s":"g","t":0.81,"v":8.3},{"s":"g","t":0.836,"v":4.1},{"s":"g","t":0.863,"v":8.1},{"s":"g","t":0.889,"v":4.2},{"s":"g","t":0.916,"v":8.0},{"s":"g","t":0.942,"v":4.3},{"s":"g","t":0.969,"v":7.9},{"s":"g","t":0.995,"v":4.4},{"s":"g","t":1.022,"v":7.8},{"s":"g","t":1.048,"v":4.5},{"s":"g","t":1.075,"v":7.6},{"s":"g","t":1.101,"v":4.6},{"s":"g","t":1.128,"v":7.5},{"s":"g","t":1.154,"v":4.7},{"s":"g","t":1.181,"v":7.4},{"s":"g","t":1.207,"v":4.8},{"s":"g","t":1.234,"v":7.3},{"s":"g","t":1.26,"v":4.9},{"s":"g","t":1.287,"v":7.2},{"s":"g","t":1.313,"v":5.0},{"s":"g","t":1.34,"v":7.1},{"s":"g","t":1.366,"v":5.1},{"s":"g","t":1.393,"v":7.0},{"s":"g","t":1.419,"v":5.1},{"s":"g","t":1.446,"v":7.0},{"s":"g","t":1.472,"v":5.2},{"s":"g","t":1.5,"v":6.9}
]
},
"concat": [
{
 "width": 466, "height": 352,
 "data": {"name": "p1"},
 "title": {"text": "Winkel u", "subtitle": "\u200b\u2003\u2003\u2003\u2003\u2003\u2002\u2005q", "dx": -6},
 "resolve": {"axis": {"x": "independent", "y": "independent"}},
 "layer": [
  {"transform": [{"filter": "datum.s == 'k'"}], "mark": {"type": "line", "color": "#000000", "strokeWidth": 1.2},
   "encoding": {
    "x": {"field": "t", "type": "quantitative", "scale": {"domain": [0.008, 1.5], "nice": false, "zero": false}, "axis": {"orient": "bottom", "values": [0.5, 1, 1.5], "labelExpr": "'' + datum.value", "title": "Zeit in s \u2192", "labelFont": "Liberation Serif", "titleFont": "Liberation Serif"}},
    "y": {"field": "v", "type": "quantitative", "scale": {"domain": [-0.2, 0.8], "nice": false, "zero": false}, "axis": {"orient": "left", "values": [-0.2, 0, 0.2, 0.4, 0.6, 0.8], "labelExpr": "'' + datum.value", "title": "Winkelauslenkung in \u03c0 \u2192", "labelFont": "Liberation Serif", "titleFont": "Liberation Serif"}}}},
  {"transform": [{"filter": "datum.s == 'b'"}], "mark": {"type": "line", "color": "#0000ff", "strokeWidth": 1.2, "interpolate": "monotone"},
   "encoding": {
    "x": {"field": "t", "type": "quantitative", "scale": {"domain": [0.008, 1.5], "nice": false, "zero": false}, "axis": {"orient": "top", "values": [0.5, 1, 1.5], "labels": false, "grid": false, "title": null, "minExtent": 0, "maxExtent": 0}},
    "y": {"field": "v", "type": "quantitative", "scale": {"domain": [-0.2, 0.8], "nice": false, "zero": false}, "axis": {"orient": "right", "values": [-0.2, 0, 0.2, 0.4, 0.6, 0.8], "labels": false, "grid": false, "title": null, "minExtent": 0, "maxExtent": 0}}}},
  {"transform": [{"filter": "datum.s == 'g'"}], "mark": {"type": "line", "color": "#138a13", "strokeWidth": 1.2, "interpolate": "monotone"},
   "encoding": {
    "x": {"field": "t", "type": "quantitative", "scale": {"domain": [0.008, 1.5], "nice": false, "zero": false}, "axis": null},
    "y": {"field": "v", "type": "quantitative", "scale": {"domain": [-0.2, 0.8], "nice": false, "zero": false}, "axis": null}}}
 ]
},
{
 "width": 466, "height": 352,
 "data": {"name": "p2"},
 "title": {"text": "Betrag u", "subtitle": "\u200b\u2003\u2003\u2003\u2003\u2003\u2002q", "dx": -7},
 "resolve": {"axis": {"x": "independent", "y": "independent"}},
 "layer": [
  {"transform": [{"filter": "datum.s == 'k'"}], "mark": {"type": "line", "color": "#000000", "strokeWidth": 1.2},
   "encoding": {
    "x": {"field": "t", "type": "quantitative", "scale": {"domain": [0.008, 1.5], "nice": false, "zero": false}, "axis": {"orient": "bottom", "values": [0.5, 1, 1.5], "labelExpr": "'' + datum.value", "title": "Zeit in s \u2192", "labelFont": "Liberation Serif", "titleFont": "Liberation Serif"}},
    "y": {"field": "v", "type": "quantitative", "scale": {"domain": [0, 1.4], "nice": false, "zero": false}, "axis": {"orient": "left", "values": [0, 0.2, 0.4, 0.6, 0.8, 1, 1.2], "labelExpr": "'' + datum.value", "title": "Spannungsbetrag bez. auf U\u1d62\u2099\u1d62 \u2192", "labelFont": "Liberation Serif", "titleFont": "Liberation Serif"}}}},
  {"transform": [{"filter": "datum.s == 'b'"}], "mark": {"type": "line", "color": "#0000ff", "strokeWidth": 1.2, "interpolate": "monotone"},
   "encoding": {
    "x": {"field": "t", "type": "quantitative", "scale": {"domain": [0.008, 1.5], "nice": false, "zero": false}, "axis": {"orient": "top", "values": [0.5, 1, 1.5], "labels": false, "grid": false, "title": null, "minExtent": 0, "maxExtent": 0}},
    "y": {"field": "v", "type": "quantitative", "scale": {"domain": [0, 1.4], "nice": false, "zero": false}, "axis": {"orient": "right", "values": [0, 0.2, 0.4, 0.6, 0.8, 1, 1.2], "labels": false, "grid": false, "title": null, "minExtent": 0, "maxExtent": 0}}}},
  {"transform": [{"filter": "datum.s == 'g'"}], "mark": {"type": "line", "color": "#138a13", "strokeWidth": 1.2, "interpolate": "monotone"},
   "encoding": {
    "x": {"field": "t", "type": "quantitative", "scale": {"domain": [0.008, 1.5], "nice": false, "zero": false}, "axis": null},
    "y": {"field": "v", "type": "quantitative", "scale": {"domain": [0, 1.4], "nice": false, "zero": false}, "axis": null}}},
  {"transform": [{"filter": "datum.s == 'r'"}], "mark": {"type": "line", "color": "#ff0000", "strokeWidth": 1.3},
   "encoding": {
    "x": {"field": "t", "type": "quantitative", "scale": {"domain": [0.008, 1.5], "nice": false, "zero": false}, "axis": null},
    "y": {"field": "v", "type": "quantitative", "scale": {"domain": [0, 1.4], "nice": false, "zero": false}, "axis": null}}}
 ]
},
{
 "width": 466, "height": 352,
 "data": {"name": "p3"},
 "title": {"text": "netzseitiger Wirkstrom |i\u2002\u2006|", "subtitle": "\u200b\u2003\u2003\u2003\u2003\u2003\u2003\u2003\u2003\u2003\u2003\u2003\u2003\u2003\u2003\u2006w", "dx": 2},
 "resolve": {"axis": {"x": "independent", "y": "independent"}},
 "layer": [
  {"transform": [{"filter": "datum.s == 'k'"}], "mark": {"type": "line", "color": "#000000", "strokeWidth": 1.2},
   "encoding": {
    "x": {"field": "t", "type": "quantitative", "scale": {"domain": [0.008, 1.5], "nice": false, "zero": false}, "axis": {"orient": "bottom", "values": [0.5, 1, 1.5], "labelExpr": "'' + datum.value", "title": "Zeit in s \u2192", "labelFont": "Liberation Serif", "titleFont": "Liberation Serif"}},
    "y": {"field": "v", "type": "quantitative", "scale": {"domain": [-30, 30], "nice": false, "zero": false}, "axis": {"orient": "left", "values": [-30, -20, -10, 0, 10, 20, 30], "labelExpr": "'' + datum.value", "title": "Betrag in A \u2192", "labelFont": "Liberation Serif", "titleFont": "Liberation Serif"}}}},
  {"transform": [{"filter": "datum.s == 'b'"}], "mark": {"type": "line", "color": "#0000ff", "strokeWidth": 1.2, "interpolate": "monotone"},
   "encoding": {
    "x": {"field": "t", "type": "quantitative", "scale": {"domain": [0.008, 1.5], "nice": false, "zero": false}, "axis": {"orient": "top", "values": [0.5, 1, 1.5], "labels": false, "grid": false, "title": null, "minExtent": 0, "maxExtent": 0}},
    "y": {"field": "v", "type": "quantitative", "scale": {"domain": [-30, 30], "nice": false, "zero": false}, "axis": {"orient": "right", "values": [-30, -20, -10, 0, 10, 20, 30], "labels": false, "grid": false, "title": null, "minExtent": 0, "maxExtent": 0}}}},
  {"transform": [{"filter": "datum.s == 'g'"}], "mark": {"type": "line", "color": "#138a13", "strokeWidth": 1.2, "interpolate": "monotone"},
   "encoding": {
    "x": {"field": "t", "type": "quantitative", "scale": {"domain": [0.008, 1.5], "nice": false, "zero": false}, "axis": null},
    "y": {"field": "v", "type": "quantitative", "scale": {"domain": [-30, 30], "nice": false, "zero": false}, "axis": null}}}
 ]
},
{
 "width": 466, "height": 352,
 "data": {"name": "p4"},
 "title": {"text": "netzseitiger Blindstrom |i\u2002|", "subtitle": "\u200b\u2003\u2003\u2003\u2003\u2003\u2003\u2003\u2003\u2003\u2003\u2003\u2003\u2003\u2003\u2004b", "dx": -1},
 "resolve": {"axis": {"x": "independent", "y": "independent"}},
 "layer": [
  {"transform": [{"filter": "datum.s == 'k'"}], "mark": {"type": "line", "color": "#000000", "strokeWidth": 1.2},
   "encoding": {
    "x": {"field": "t", "type": "quantitative", "scale": {"domain": [0.008, 1.5], "nice": false, "zero": false}, "axis": {"orient": "bottom", "values": [0.5, 1, 1.5], "labelExpr": "'' + datum.value", "title": "Zeit in s \u2192", "labelFont": "Liberation Serif", "titleFont": "Liberation Serif"}},
    "y": {"field": "v", "type": "quantitative", "scale": {"domain": [-40, 60], "nice": false, "zero": false}, "axis": {"orient": "left", "values": [-40, -20, 0, 20, 40, 60], "labelExpr": "'' + datum.value", "title": "Betrag in A \u2192", "labelFont": "Liberation Serif", "titleFont": "Liberation Serif"}}}},
  {"transform": [{"filter": "datum.s == 'b'"}], "mark": {"type": "line", "color": "#0000ff", "strokeWidth": 1.2, "interpolate": "monotone"},
   "encoding": {
    "x": {"field": "t", "type": "quantitative", "scale": {"domain": [0.008, 1.5], "nice": false, "zero": false}, "axis": {"orient": "top", "values": [0.5, 1, 1.5], "labels": false, "grid": false, "title": null, "minExtent": 0, "maxExtent": 0}},
    "y": {"field": "v", "type": "quantitative", "scale": {"domain": [-40, 60], "nice": false, "zero": false}, "axis": {"orient": "right", "values": [-40, -20, 0, 20, 40, 60], "labels": false, "grid": false, "title": null, "minExtent": 0, "maxExtent": 0}}}},
  {"transform": [{"filter": "datum.s == 'g'"}], "mark": {"type": "line", "color": "#138a13", "strokeWidth": 1.2, "interpolate": "monotone"},
   "encoding": {
    "x": {"field": "t", "type": "quantitative", "scale": {"domain": [0.008, 1.5], "nice": false, "zero": false}, "axis": null},
    "y": {"field": "v", "type": "quantitative", "scale": {"domain": [-40, 60], "nice": false, "zero": false}, "axis": null}}}
 ]
}
]
}
